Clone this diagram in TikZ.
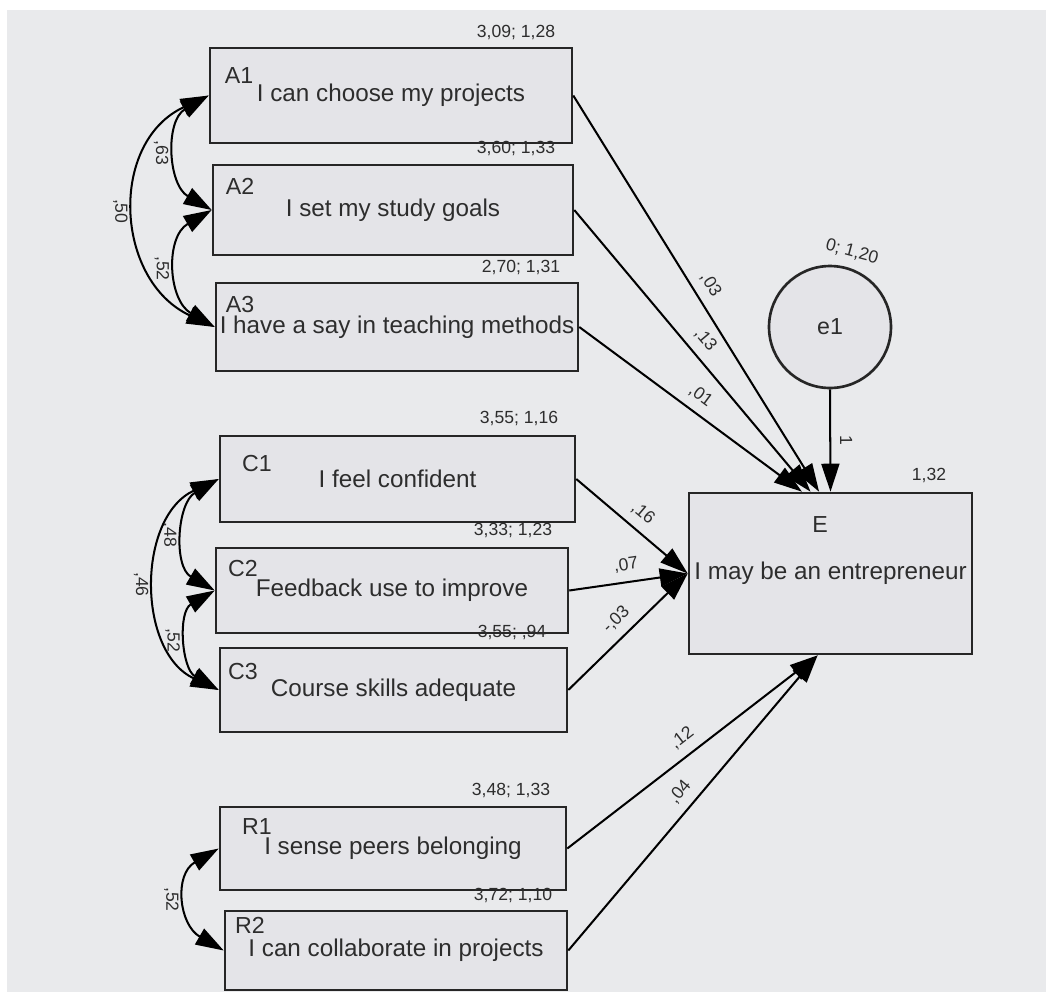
\documentclass[tikz,border=0pt]{standalone}
\usepackage{fontspec}
\setmainfont{Liberation Sans}
\usepackage{tikz}
\usetikzlibrary{arrows.meta,positioning,calc}
\definecolor{bggray}{RGB}{233,234,236}
\definecolor{boxgray}{RGB}{228,228,232}
\definecolor{ink}{RGB}{45,45,45}

\begin{document}
\begin{tikzpicture}[x=0.02cm,y=0.02cm,every node/.style={text=ink},
  obs/.style={draw=black!85,line width=1.5pt,fill=boxgray,inner sep=0pt,font=\fontsize{13.8}{16}\selectfont},
  code/.style={font=\fontsize{13.2}{15}\selectfont},
  est/.style={font=\fontsize{10}{12}\selectfont,inner sep=1pt},
  coef/.style={font=\fontsize{10}{12}\selectfont,sloped,above=4pt,inner sep=1pt,pos=0.5},
  cov/.style={font=\fontsize{10}{12}\selectfont,rotate=-90,anchor=north,inner sep=4.5pt,midway},
  reg/.style={-{Triangle[length=0.56cm,width=0.36cm]},line width=1.15pt},
  corr/.style={{Triangle[length=0.56cm,width=0.36cm]}-{Triangle[length=0.56cm,width=0.36cm]},line width=1.15pt}]
  \fill[white] (0,0) rectangle (1046,-992);
  \fill[bggray] (7,-10) rectangle (1046,-992);

  \node[obs,minimum width=7.24cm,minimum height=1.90cm] (A1) at (391,-95.5) {I can choose my projects};
  \node[obs,minimum width=7.20cm,minimum height=1.80cm] (A2) at (393,-210) {I set my study goals};
  \node[obs,minimum width=7.24cm,minimum height=1.76cm] (A3) at (397,-327) {I have a say in teaching methods};
  \node[obs,minimum width=7.10cm,minimum height=1.72cm] (C1) at (397.5,-479) {I feel confident};
  \node[obs,minimum width=7.04cm,minimum height=1.70cm] (C2) at (392,-590.5) {Feedback use to improve};
  \node[obs,minimum width=6.94cm,minimum height=1.68cm] (C3) at (393.5,-690) {Course skills adequate};
  \node[obs,minimum width=6.92cm,minimum height=1.66cm] (R1) at (393,-848.5) {I sense peers belonging};
  \node[obs,minimum width=6.84cm,minimum height=1.58cm] (R2) at (396,-950.5) {I can collaborate in projects};
  \node[obs,minimum width=5.66cm,minimum height=3.22cm] (E) at (830.5,-573.5) {I may be an entrepreneur};
  \node[obs,circle,minimum size=2.44cm,font=\fontsize{13.2}{15}\selectfont] (e1) at (830,-327) {e1};

  \node[code] (A1c) at (239,-76) {A1};
  \node[code] (A2c) at (240,-186) {A2};
  \node[code] (A3c) at (240,-305) {A3};
  \node[code] (C1c) at (257,-464) {C1};
  \node[code] (C2c) at (243,-569) {C2};
  \node[code] (C3c) at (243,-672) {C3};
  \node[code] (R1c) at (257,-827) {R1};
  \node[code] (R2c) at (250,-925) {R2};
  \node[code] (Ec) at (820,-525) {E};

  \node[est] (mA1) at (516,-32) {3,09; 1,28};
  \node[est] (mA2) at (516,-148) {3,60; 1,33};
  \node[est] (mA3) at (521,-267) {2,70; 1,31};
  \node[est] (mC1) at (519,-418) {3,55; 1,16};
  \node[est] (mC2) at (513,-530) {3,33; 1,23};
  \node[est] (mC3) at (512,-632) {3,55; ,94};
  \node[est] (mR1) at (511,-790) {3,48; 1,33};
  \node[est] (mR2) at (513,-895) {3,72; 1,10};
  \node[est] (mE) at (929,-475) {1,32};
  \node[est,rotate=-15] (me1) at (852,-252) {0; 1,20};

  \coordinate (EA1) at ($(E.north west)!0.46!(E.north east)$);
  \coordinate (EA2) at ($(E.north west)!0.43!(E.north east)$);
  \coordinate (EA3) at ($(E.north west)!0.40!(E.north east)$);
  \coordinate (ER) at ($(E.south west)!0.455!(E.south east)$);

  \draw[reg] (A1.east) -- (EA1) node[coef] {,03};
  \draw[reg] (A2.east) -- (EA2) node[coef] {,13};
  \draw[reg] (A3.east) -- (EA3) node[coef] {,01};
  \draw[reg] (e1.south) -- (E.north) node[coef] {1};
  \draw[reg] (C1.east) -- (E.west) node[coef] {,16};
  \draw[reg] (C2.east) -- (E.west) node[coef] {,07};
  \draw[reg] (C3.east) -- (E.west) node[coef] {-,03};
  \draw[reg] (R1.east) -- (ER) node[coef] {,12};
  \draw[reg] (R2.east) -- (ER) node[coef] {,04};

  \draw[corr] (A1.west) to[out=210,in=150,looseness=1.13] node[cov] {,63} (A2.west);
  \draw[corr] (A1.west) to[out=205,in=155,looseness=1.22] node[cov] {,50} (A3.west);
  \draw[corr] (A2.west) to[out=210,in=150,looseness=1.18] node[cov] {,52} (A3.west);
  \draw[corr] (C1.west) to[out=210,in=150,looseness=1.1] node[cov] {,48} (C2.west);
  \draw[corr] (C1.west) to[out=205,in=155,looseness=1.1] node[cov] {,46} (C3.west);
  \draw[corr] (C2.west) to[out=210,in=150,looseness=1.1] node[cov] {,52} (C3.west);
  \draw[corr] (R1.west) to[out=210,in=150,looseness=1.3] node[cov] {,52} (R2.west);
\end{tikzpicture}
\end{document}
